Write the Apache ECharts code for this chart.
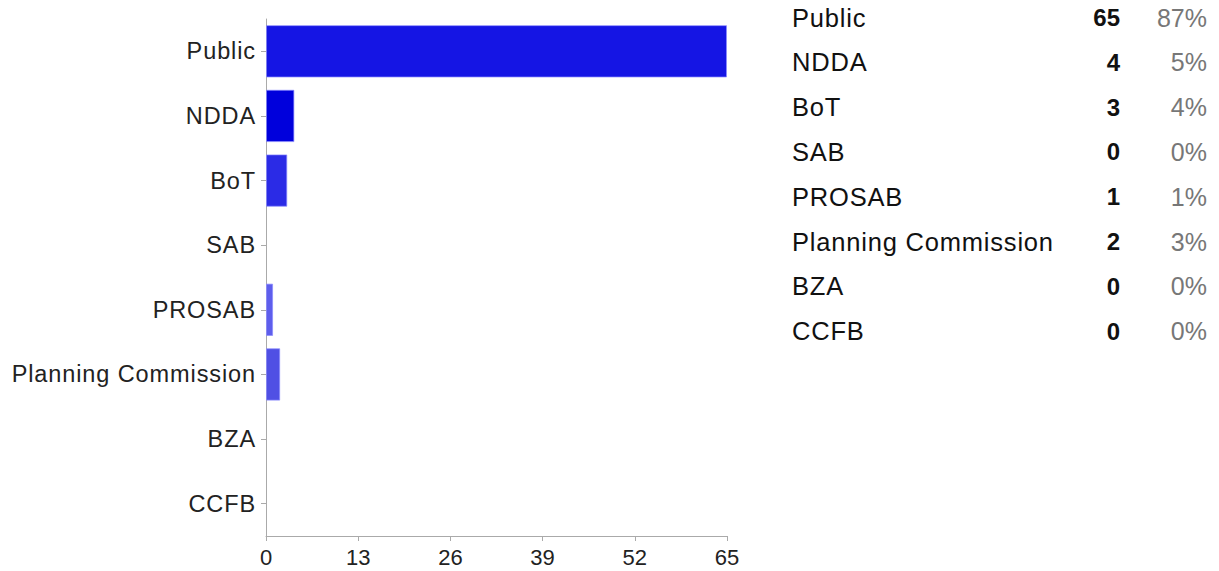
<!DOCTYPE html>
<html>
<head>
<meta charset="utf-8">
<script src="https://cdn.jsdelivr.net/npm/echarts@6/dist/echarts.min.js"></script>
<style>
html,body{margin:0;padding:0;background:#fff;}
#chart{width:1219px;height:571px;}
</style>
</head>
<body>
<div id="chart"></div>
<script>
const categories = ['Public', 'NDDA', 'BoT', 'SAB', 'PROSAB', 'Planning Commission', 'BZA', 'CCFB'];
const counts = [65, 4, 3, 0, 1, 2, 0, 0];
const percents = ['87%', '5%', '4%', '0%', '1%', '3%', '0%', '0%'];
const barColors = ['#1515e4', '#0000dc', '#2b2be6', '#3030e6', '#5e5eec', '#5050e4', '#5050e4', '#5050e4'];
const xTicks = [0, 13, 26, 39, 52, 65];

const FONT = 'Liberation Sans, Arial, sans-serif';
const chart = echarts.init(document.getElementById('chart'), null, { renderer: 'svg' });

const tableGraphics = [];
const rowTop = 17.5, rowStep = 44.8;
categories.forEach((c, i) => {
  const y = rowTop + i * rowStep;
  tableGraphics.push({
    type: 'text', x: 792, y: y, style: {
      text: c, fontFamily: FONT, fontSize: 25.5, fill: '#111',
      align: 'left', verticalAlign: 'middle'
    }
  });
  tableGraphics.push({
    type: 'text', x: 1120, y: y, style: {
      text: String(counts[i]), fontFamily: FONT, fontSize: 24, fontWeight: 'bold', fill: '#111',
      align: 'right', verticalAlign: 'middle'
    }
  });
  tableGraphics.push({
    type: 'text', x: 1207, y: y, style: {
      text: percents[i], fontFamily: FONT, fontSize: 25, fill: '#777',
      align: 'right', verticalAlign: 'middle'
    }
  });
});

chart.setOption({
  animation: false,
  grid: { left: 266, right: 492, top: 19, bottom: 35, containLabel: false },
  xAxis: {
    type: 'value', min: 0, max: 65, interval: 13,
    axisLine: { show: true, lineStyle: { color: '#aaa', width: 1 } },
    axisTick: { show: true, length: 5, lineStyle: { color: '#aaa' } },
    axisLabel: {
      color: '#222', fontFamily: FONT, fontSize: 22, margin: 10,
      formatter: v => xTicks.includes(v) ? String(v) : ''
    },
    splitLine: { show: false }
  },
  yAxis: {
    type: 'category', data: categories, inverse: true,
    axisLine: { show: true, lineStyle: { color: '#aaa', width: 1 } },
    axisTick: { show: true, alignWithLabel: true, length: 5, lineStyle: { color: '#aaa' } },
    axisLabel: { color: '#222', fontFamily: FONT, fontSize: 23.5, margin: 10, padding: [8, 0, 0, 0] }
  },
  series: [{
    type: 'bar',
    data: counts.map((v, i) => ({
      value: v,
      itemStyle: { color: barColors[i], borderWidth: v > 0 ? 1 : 0 }
    })),
    barCategoryGap: '19%',
    itemStyle: { borderColor: 'rgba(140,140,255,0.7)' }
  }],
  graphic: tableGraphics
});

// slightly wider letter spacing of category names, as in the reference typography
function spaceNames() {
  document.querySelectorAll('#chart text').forEach(t => {
    if (categories.includes(t.textContent)) {
      const fs = parseFloat(t.style.fontSize || t.getAttribute('font-size') || '0') ||
                 parseFloat(getComputedStyle(t).fontSize);
      t.style.letterSpacing = fs >= 25 ? '0.8px' : '0.9px';
    }
  });
}
spaceNames();
chart.on('finished', spaceNames);
</script>
</body>
</html>
